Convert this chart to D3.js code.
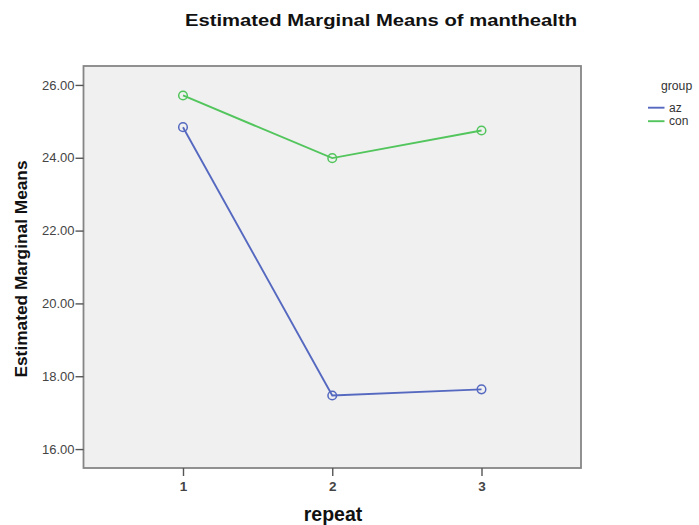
<!DOCTYPE html>
<html>
<head>
<meta charset="utf-8">
<script src="https://cdn.jsdelivr.net/npm/d3@7"></script>
<style>
  html, body { margin: 0; padding: 0; background: #fff; }
  svg { display: block; font-family: "Liberation Sans", Arial, sans-serif; }
</style>
</head>
<body>
<svg id="chart" width="699" height="525"></svg>
<script>
// Estimated marginal means of manthealth per group across the three repeats
const repeats = [1, 2, 3];
const groups = ["az", "con"];
const azMeans = [24.84, 17.47, 17.64];
const conMeans = [25.71, 23.99, 24.75];
const yTicks = [16, 18, 20, 22, 24, 26];
const colors = { az: "#5669c0", con: "#52c55c" };

const seriesData = [
  { name: "az", values: azMeans },
  { name: "con", values: conMeans }
];

const svg = d3.select("#chart");
const frame = { left: 83.5, right: 581, top: 66, bottom: 468 };

const x = d3.scaleLinear().domain([1 / 3, 11 / 3]).range([frame.left, frame.right]);
const y = d3.scaleLinear().domain([15.48, 26.52]).range([frame.bottom, frame.top]);

// Title
svg.append("text")
  .attr("x", 381).attr("y", 26)
  .attr("text-anchor", "middle")
  .attr("font-size", 17).attr("font-weight", "bold").attr("fill", "#111")
  .attr("textLength", 392).attr("lengthAdjust", "spacingAndGlyphs")
  .text("Estimated Marginal Means of manthealth");

// Plot background
svg.append("rect")
  .attr("x", frame.left).attr("y", frame.top)
  .attr("width", frame.right - frame.left).attr("height", frame.bottom - frame.top)
  .attr("fill", "#f0f0f0").attr("stroke", "#858585").attr("stroke-width", 1.8);

// Y axis
const yAxis = svg.append("g")
  .attr("transform", `translate(${frame.left},0)`)
  .call(d3.axisLeft(y).tickValues(yTicks).tickFormat(d3.format(".2f")).tickSize(8).tickPadding(1));
yAxis.select(".domain").remove();
yAxis.selectAll(".tick line").attr("stroke", "#555").attr("stroke-width", 1.4);
yAxis.selectAll(".tick text").attr("font-size", 13).attr("fill", "#444")
  .attr("font-family", "Liberation Sans, Arial, sans-serif");

// X axis
const xAxis = svg.append("g")
  .attr("transform", `translate(0,${frame.bottom})`)
  .call(d3.axisBottom(x).tickValues(repeats).tickFormat(d3.format("d")).tickSize(8).tickPadding(5));
xAxis.select(".domain").remove();
xAxis.selectAll(".tick line").attr("stroke", "#555").attr("stroke-width", 1.4);
xAxis.selectAll(".tick text").attr("font-size", 13.5).attr("font-weight", "bold").attr("fill", "#444")
  .attr("font-family", "Liberation Sans, Arial, sans-serif");

// Axis titles
svg.append("text")
  .attr("x", 333).attr("y", 521)
  .attr("text-anchor", "middle")
  .attr("font-size", 19.5).attr("font-weight", "bold").attr("fill", "#111")
  .text("repeat");

svg.append("text")
  .attr("transform", "translate(27,269) rotate(-90)")
  .attr("text-anchor", "middle")
  .attr("font-size", 17.3).attr("font-weight", "bold").attr("fill", "#111")
  .text("Estimated Marginal Means");

// Lines and markers
const line = d3.line()
  .x((d, i) => x(repeats[i]))
  .y(d => y(d));

const series = svg.selectAll("g.series")
  .data(seriesData)
  .enter().append("g").attr("class", "series");

series.append("path")
  .attr("d", d => line(d.values))
  .attr("fill", "none")
  .attr("stroke", d => colors[d.name])
  .attr("stroke-width", 1.9);

series.selectAll("circle")
  .data(d => d.values.map((v, i) => ({ name: d.name, v, i })))
  .enter().append("circle")
  .attr("cx", d => x(repeats[d.i]))
  .attr("cy", d => y(d.v))
  .attr("r", 4.3)
  .attr("fill", "none")
  .attr("stroke", d => colors[d.name])
  .attr("stroke-width", 1.5);

// Legend
const legend = svg.append("g");
legend.append("text")
  .attr("x", 661).attr("y", 89.5)
  .attr("font-size", 12.2).attr("fill", "#333")
  .text("group");

groups.forEach((g, i) => {
  const ly = 107.7 + i * 13.5;
  legend.append("line")
    .attr("x1", 648).attr("x2", 664.5)
    .attr("y1", ly).attr("y2", ly)
    .attr("stroke", colors[g]).attr("stroke-width", 1.9);
  legend.append("text")
    .attr("x", 669).attr("y", ly + 4)
    .attr("font-size", 12).attr("fill", "#333")
    .text(g);
});
</script>
</body>
</html>
